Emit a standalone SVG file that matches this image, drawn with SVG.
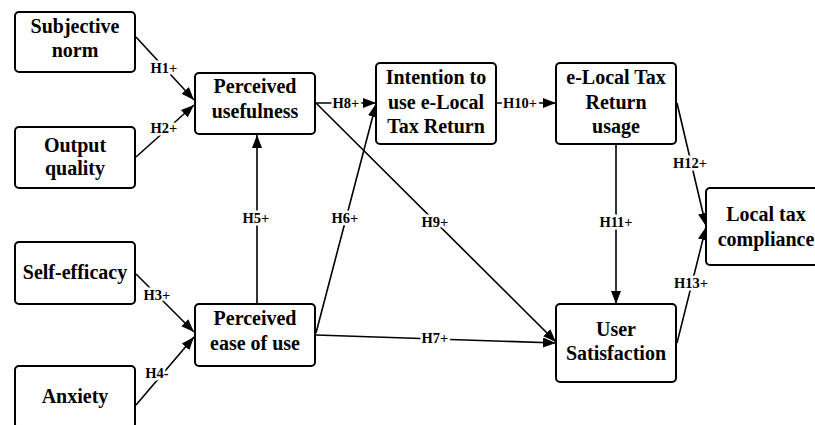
<svg xmlns="http://www.w3.org/2000/svg" width="815" height="425" viewBox="0 0 815 425" font-family="Liberation Serif, Times New Roman, Times, serif">
<defs>
<style>
.box{fill:#fff;stroke:#000;stroke-width:2}
.t{font-weight:bold;font-size:20px;text-anchor:middle;fill:#000}
.c{fill:none;stroke:#000;stroke-width:1.6}
.l{font-weight:bold;font-size:14.5px;text-anchor:middle;dominant-baseline:central;fill:#000;stroke:#fff;stroke-width:5;paint-order:stroke;stroke-linejoin:round}
</style>
<marker id="arr" markerUnits="userSpaceOnUse" markerWidth="14" markerHeight="10" refX="13" refY="5" orient="auto">
<path d="M0,0 L13,5 L0,10 Z" fill="#000"/>
</marker>
</defs>
<rect width="815" height="425" fill="#fff"/>
<g id="connectors">
<line class="c" x1="136" y1="37" x2="194" y2="100" marker-end="url(#arr)"/>
<line class="c" x1="136" y1="157" x2="194" y2="105" marker-end="url(#arr)"/>
<line class="c" x1="136" y1="274" x2="194" y2="332" marker-end="url(#arr)"/>
<line class="c" x1="136" y1="405" x2="194" y2="337" marker-end="url(#arr)"/>
<line class="c" x1="257" y1="304" x2="257" y2="135" marker-end="url(#arr)"/>
<line class="c" x1="316" y1="333" x2="376" y2="104" marker-end="url(#arr)"/>
<line class="c" x1="316" y1="335" x2="556" y2="343" marker-end="url(#arr)"/>
<line class="c" x1="316" y1="103" x2="376" y2="103" marker-end="url(#arr)"/>
<line class="c" x1="316" y1="103" x2="556" y2="342" marker-end="url(#arr)"/>
<line class="c" x1="496" y1="103" x2="556" y2="103" marker-end="url(#arr)"/>
<line class="c" x1="616" y1="144" x2="616" y2="304" marker-end="url(#arr)"/>
<line class="c" x1="677" y1="103" x2="706" y2="226" marker-end="url(#arr)"/>
<line class="c" x1="677" y1="343" x2="706" y2="227" marker-end="url(#arr)"/>
<text class="l" x="164" y="68">H1+</text>
<text class="l" x="164" y="128">H2+</text>
<text class="l" x="157" y="295">H3+</text>
<text class="l" x="157" y="373">H4-</text>
<text class="l" x="256" y="218">H5+</text>
<text class="l" x="345" y="218">H6+</text>
<text class="l" x="435" y="338">H7+</text>
<text class="l" x="346" y="103">H8+</text>
<text class="l" x="435" y="222">H9+</text>
<text class="l" x="520" y="103">H10+</text>
<text class="l" x="616" y="222">H11+</text>
<text class="l" x="690" y="163">H12+</text>
<text class="l" x="691" y="283">H13+</text>
</g>
<g id="subjective-norm">
<rect class="box" x="15" y="12" width="120" height="60" rx="4"/>
<text class="t" x="75" y="33">Subjective</text>
<text class="t" x="75" y="57">norm</text>
</g>
<g id="output-quality">
<rect class="box" x="15" y="127" width="120" height="61" rx="4"/>
<text class="t" x="75" y="152">Output</text>
<text class="t" x="75" y="175">quality</text>
</g>
<g id="self-efficacy">
<rect class="box" x="15" y="242" width="120" height="62" rx="4"/>
<text class="t" x="75" y="279">Self-efficacy</text>
</g>
<g id="anxiety">
<rect class="box" x="15" y="366" width="120" height="62" rx="4"/>
<text class="t" x="75" y="403">Anxiety</text>
</g>
<g id="perceived-usefulness">
<rect class="box" x="195" y="73" width="120" height="61" rx="4"/>
<text class="t" x="255" y="93">Perceived</text>
<text class="t" x="255" y="118">usefulness</text>
</g>
<g id="perceived-ease-of-use">
<rect class="box" x="195" y="304" width="120" height="62" rx="4"/>
<text class="t" x="255" y="325">Perceived</text>
<text class="t" x="255" y="350">ease of use</text>
</g>
<g id="intention">
<rect class="box" x="376" y="63" width="120" height="81" rx="4"/>
<text class="t" x="436" y="84">Intention to</text>
<text class="t" x="436" y="109">use e-Local</text>
<text class="t" x="436" y="133">Tax Return</text>
</g>
<g id="elocal-usage">
<rect class="box" x="556" y="63" width="120" height="81" rx="4"/>
<text class="t" x="616" y="84">e-Local Tax</text>
<text class="t" x="616" y="109">Return</text>
<text class="t" x="616" y="133">usage</text>
</g>
<g id="user-satisfaction">
<rect class="box" x="556" y="304" width="120" height="78" rx="4"/>
<text class="t" x="616" y="336">User</text>
<text class="t" x="616" y="360">Satisfaction</text>
</g>
<g id="local-tax-compliance">
<rect class="box" x="706" y="188" width="120" height="77" rx="4"/>
<text class="t" x="766" y="221">Local tax</text>
<text class="t" x="766" y="246">compliance</text>
</g>
</svg>
